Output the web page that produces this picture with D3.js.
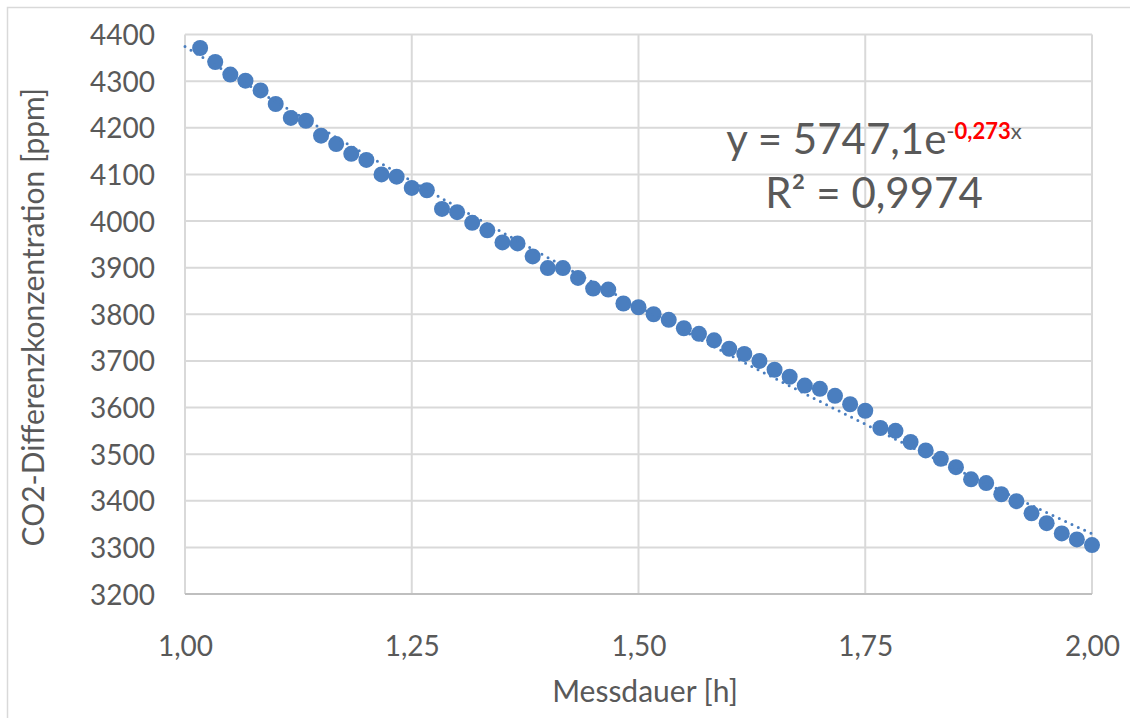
<!DOCTYPE html>
<html>
<head>
<meta charset="utf-8">
<script src="https://cdn.jsdelivr.net/npm/d3@7/dist/d3.min.js"></script>
<style>
  html, body { margin: 0; padding: 0; background: #fff; }
  svg { display: block; }
  text { font-family: Lato, "Open Sans", sans-serif; fill: #595959; }
</style>
</head>
<body>
<svg id="chart" width="1130" height="718"></svg>
<script>
// Measurement time in hours (one reading per minute)
const hours = d3.range(1, 61).map(k => 1 + k / 60);

// CO2 difference concentration in ppm
const ppm = [
  4371, 4341, 4314, 4301, 4280, 4251, 4221, 4215, 4183, 4165,
  4144, 4131, 4100, 4095, 4071, 4066, 4026, 4019, 3996, 3980,
  3954, 3952, 3924, 3899, 3899, 3878, 3855, 3853, 3823, 3815,
  3800, 3788, 3770, 3758, 3744, 3726, 3715, 3700, 3681, 3666,
  3647, 3640, 3625, 3607, 3593, 3556, 3550, 3526, 3508, 3490,
  3472, 3446, 3438, 3414, 3399, 3373, 3352, 3330, 3317, 3305
];

// Axis ticks
const xTicks = [1.00, 1.25, 1.50, 1.75, 2.00];
const yTicks = d3.range(3200, 4401, 100);

// Exponential trendline y = a * e^(b x)
const trendA = 5747.1;
const trendB = -0.273;
const rSquared = "0,9974";

const svg = d3.select("#chart");
const W = 1130, H = 718;
const plot = { left: 185, right: 1092, top: 34.5, bottom: 594 };

svg.append("rect").attr("width", W).attr("height", H).attr("fill", "#fff");

// outer frame
svg.append("path")
  .attr("d", `M7.5,${H} V7.5 H${W}`)
  .attr("fill", "none").attr("stroke", "#d9d9d9").attr("stroke-width", 1.5);

const x = d3.scaleLinear().domain([1, 2]).range([plot.left, plot.right]);
const y = d3.scaleLinear().domain([3200, 4400]).range([plot.bottom, plot.top]);

const fmt = v => d3.format(".2f")(v).replace(".", ",");

// gridlines
svg.append("g").selectAll("line").data(yTicks).join("line")
  .attr("x1", plot.left).attr("x2", plot.right)
  .attr("y1", d => y(d)).attr("y2", d => y(d))
  .attr("stroke", "#d9d9d9").attr("stroke-width", 2);
svg.append("g").selectAll("line").data(xTicks).join("line")
  .attr("y1", plot.top).attr("y2", plot.bottom)
  .attr("x1", d => x(d)).attr("x2", d => x(d))
  .attr("stroke", "#d9d9d9").attr("stroke-width", 2);

// x axis line
svg.append("line")
  .attr("x1", plot.left).attr("x2", plot.right)
  .attr("y1", plot.bottom).attr("y2", plot.bottom)
  .attr("stroke", "#bfbfbf").attr("stroke-width", 2);

// axes (labels only)
const yAxis = svg.append("g")
  .attr("transform", `translate(${plot.left - 30},0)`)
  .call(d3.axisLeft(y).tickValues(yTicks).tickSize(0).tickPadding(0).tickFormat(d3.format("d")));
yAxis.select(".domain").remove();
yAxis.selectAll("text")
  .style("font-family", "Lato, sans-serif").style("font-size", "28px").attr("fill", "#595959")
  .attr("dy", "0.36em");

const xAxis = svg.append("g")
  .attr("transform", `translate(0,${plot.bottom})`)
  .call(d3.axisBottom(x).tickValues(xTicks).tickSize(0).tickPadding(0).tickFormat(fmt));
xAxis.select(".domain").remove();
xAxis.selectAll("text")
  .style("font-family", "Lato, sans-serif").style("font-size", "28px").attr("fill", "#595959")
  .attr("y", 62).attr("dy", 0);

// data points
svg.append("g").selectAll("circle").data(hours).join("circle")
  .attr("cx", d => x(d))
  .attr("cy", (d, i) => y(ppm[i]))
  .attr("r", 8)
  .attr("fill", "#4a7ebf");

// dotted exponential trendline
const trendX = d3.range(0, 201).map(i => 1 + i / 200);
svg.append("path")
  .datum(trendX)
  .attr("d", d3.line().x(d => x(d)).y(d => y(trendA * Math.exp(trendB * d))))
  .attr("fill", "none")
  .attr("stroke", "#4a7ebf")
  .attr("stroke-width", 3)
  .attr("stroke-linecap", "round")
  .attr("stroke-dasharray", "0 7");

// equation label
const eq = svg.append("text")
  .attr("x", 874).attr("y", 154)
  .attr("text-anchor", "middle")
  .style("font-size", "42px");
eq.append("tspan").text("y = 5747,1e");
eq.append("tspan").attr("dy", -15).style("font-size", "22px").text("-");
eq.append("tspan").style("font-size", "22px").style("font-weight", "bold")
  .style("fill", "#ff0000").text(String(trendB).replace("-", "").replace(".", ","));
eq.append("tspan").style("font-size", "22px").text("x");

svg.append("text")
  .attr("x", 874).attr("y", 208)
  .attr("text-anchor", "middle")
  .style("font-size", "42px")
  .text("R² = " + rSquared);

// axis titles
svg.append("text")
  .attr("x", 645).attr("y", 702)
  .attr("text-anchor", "middle")
  .style("font-size", "30px")
  .text("Messdauer [h]");

svg.append("text")
  .attr("transform", `translate(44,${(plot.top + plot.bottom) / 2 + 3}) rotate(-90)`)
  .attr("text-anchor", "middle")
  .style("font-size", "30px")
  .text("CO2-Differenzkonzentration [ppm]");
</script>
</body>
</html>
